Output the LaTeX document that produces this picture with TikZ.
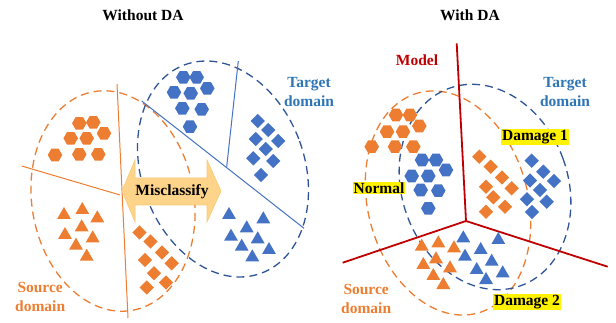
\documentclass[tikz,border=0pt]{standalone}
\usepackage{fontspec}
\setmainfont{Liberation Serif}
\usetikzlibrary{shapes.geometric}
\definecolor{orng}{HTML}{ED7D31}
\definecolor{blu}{HTML}{4472C4}
\definecolor{dblu}{HTML}{2F5597}
\definecolor{tblu}{HTML}{2E75B6}
\definecolor{mred}{HTML}{C00000}
\definecolor{arrowfill}{HTML}{FDD48A}
\definecolor{arrowedge}{HTML}{F9C97A}
\tikzset{
  hexa/.style={regular polygon, regular polygon sides=6, minimum size=14.5pt, inner sep=0pt, fill=#1},
  tri/.style={regular polygon, regular polygon sides=3, minimum size=16pt, inner sep=0pt, fill=#1},
  dmd/.style={diamond, aspect=1, minimum width=14.5pt, minimum height=14.5pt, inner sep=0pt, fill=#1},
  domainell/.style={draw=#1, line width=1.3pt, dash pattern=on 8pt off 5pt},
  lbl/.style={font=\fontsize{15.5}{19}\selectfont\bfseries, inner sep=0pt, align=center},
  hilite/.style={lbl, fill=yellow, inner sep=1pt},
  thinline/.style={line width=1pt},
}
\begin{document}
\begin{tikzpicture}[x=1pt,y=-1pt]
\useasboundingbox (0,0) rectangle (616,323);
% ---------- left panel ----------
\draw[domainell=orng, rotate around={10:(113,201)}] (113,201) ellipse (81 and 111);
\draw[domainell=dblu, rotate around={20:(223,169)}] (223,169) ellipse (81.5 and 111);
\coordinate (ov1) at (117,84);
\coordinate (ov2) at (128,318);
\coordinate (ol1) at (21.7,166);
\coordinate (ol2) at (120,195);
\coordinate (bl1) at (141.7,101);
\coordinate (bl2) at (304,228.3);
\coordinate (bs1) at (238.3,61);
\coordinate (bs2) at (226.7,166.7);
\draw[thinline, orng] (ov1) -- (ov2);
\draw[thinline, orng] (ol1) -- (ol2);
\draw[thinline, blu] (bl1) -- (bl2);
\draw[thinline, blu] (bs1) -- (bs2);
\foreach \p [count=\i] in {(79.3,123.3),(93.3,122.3),(70.7,138.3),(86.7,138.3),(104,133.3),(55,155),(79.3,154.3),(98.3,154.3)}
  \node[hexa=orng] (loh\i) at \p {};
\foreach \p [count=\i] in {(64,215),(82.3,210),(97.3,218.3),(65,235),(81.7,227.3),(92.7,238.3),(76,245.7),(86.7,256.7)}
  \node[tri=orng] (lot\i) at \p {};
\foreach \p [count=\i] in {(139.5,232.5),(150.5,241.5),(162,252.5),(145,260),(171.7,263.3),(154,273.3),(166,282.5),(146.7,287.5)}
  \node[dmd=orng] (lod\i) at \p {};
\foreach \p [count=\i] in {(183.3,77.3),(196.7,77.3),(174,92.3),(190.7,93.3),(207.3,88.3),(182.3,108.3),(201.7,109.3),(190,126.7)}
  \node[hexa=blu] (lbh\i) at \p {};
\foreach \p [count=\i] in {(257.7,121),(268.3,130),(255.7,139),(278.3,141),(265.7,149),(253.3,158.3),(273.3,161),(261,175)}
  \node[dmd=blu] (lbd\i) at \p {};
\foreach \p [count=\i] in {(229,215),(263.3,219.3),(246.7,228.3),(231,236.7),(257.7,239.3),(241.7,246.7),(269,250),(252.3,257.3)}
  \node[tri=blu] (lbt\i) at \p {};
% misclassify arrow
\fill[arrowfill, draw=arrowedge, line width=0.6pt] (122,191) -- (135,160) -- (135,178) -- (207,178) -- (207,160) -- (221,191) -- (207,222) -- (207,205) -- (135,205) -- (135,222) -- cycle;
\node[lbl] (mis) at (172,192) {Misclassify};
\node[lbl] (tl1) at (143,15) {Without DA};
\node[lbl, text=tblu] (tgl) at (309,92) {Target\\domain};
\node[lbl, text=orng, anchor=west] (srcl) at (15,297) {Source\\domain};
% ---------- right panel ----------
\draw[domainell=orng, rotate around={15:(448,203)}] (448,203) ellipse (80 and 114);
\draw[domainell=dblu, rotate around={20:(485,187)}] (485,187) ellipse (83 and 105);
\coordinate (rc) at (466,221);
\coordinate (rt) at (456.7,43.3);
\coordinate (rl) at (342.7,262.7);
\coordinate (rr) at (607.7,266.7);
\draw[mred, line width=1.8pt] (rc) -- (rt);
\draw[mred, line width=1.8pt] (rc) -- (rl);
\draw[mred, line width=1.8pt] (rc) -- (rr);
\foreach \p [count=\i] in {(396,115),(410,115),(387,131.7),(403,131.7),(419.3,126),(371.7,146.7),(395,146.7),(413.3,146.7)}
  \node[hexa=orng] (roh\i) at \p {};
\foreach \p [count=\i] in {(422,160),(436,160),(411.7,176),(428.3,176),(446,170),(420.7,190),(438.3,190.7),(428.3,208.3)}
  \node[hexa=blu] (rbh\i) at \p {};
\foreach \p [count=\i] in {(479.3,156.7),(490.7,166.7),(502,177.5),(486,186.7),(511.7,188.3),(493.3,197.3),(505,206.7),(486,211.7)}
  \node[dmd=orng] (rod\i) at \p {};
\foreach \p [count=\i] in {(531.7,160.7),(543.3,171.7),(530,180.5),(554,181),(540,190),(527,199.3),(546.7,201.7),(532,212)}
  \node[dmd=blu] (rbd\i) at \p {};
\foreach \p [count=\i] in {(421.7,246.7),(438.3,243.3),(454,248.3),(436,259.3),(423.3,265),(450,268.3),(433.3,276),(443.3,285)}
  \node[tri=orng] (rot\i) at \p {};
\foreach \p [count=\i] in {(463.3,238.3),(498.3,240),(480.7,250),(465,256.7),(491.7,261.7),(476.7,270),(502.7,273.3),(486,280)}
  \node[tri=blu] (rbt\i) at \p {};
\node[lbl] (tl2) at (470,15) {With DA};
\node[lbl, text=mred] (mdl) at (417,60) {Model};
\node[lbl, text=tblu] (tgr) at (565,92) {Target\\domain};
\node[lbl, text=orng, anchor=west] (srcr) at (341,299) {Source\\domain};
\node[hilite] (d1) at (535,137) {Damage 1};
\node[hilite] (nrm) at (379,188) {Normal};
\node[hilite] (d2) at (527,302) {Damage 2};
\end{tikzpicture}
\end{document}
